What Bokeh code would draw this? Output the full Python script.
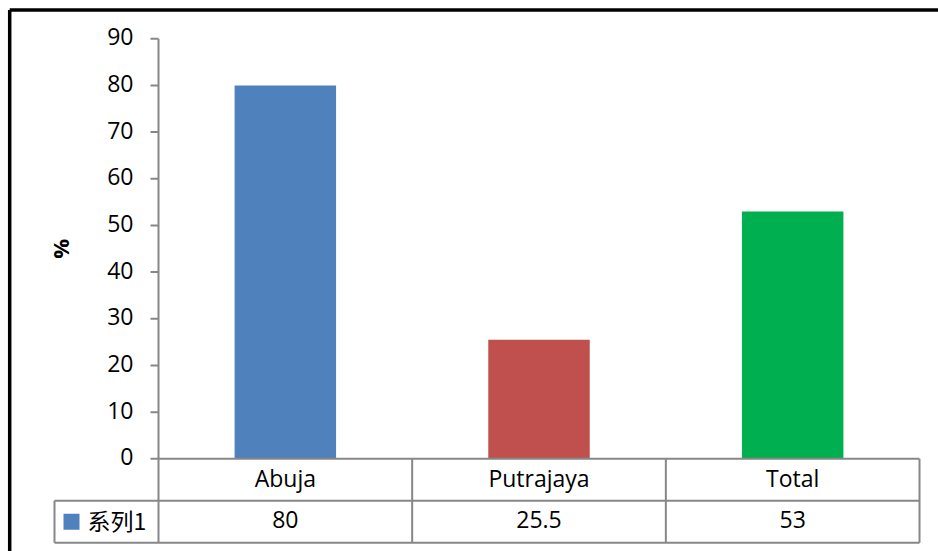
import math

from bokeh.plotting import figure
from bokeh.models import ColumnDataSource, Range1d
from bokeh.core.properties import value
from bokeh.embed import file_html
from bokeh.resources import INLINE

# ---- data -------------------------------------------------------------
categories = ["Abuja", "Putrajaya", "Total"]
series_name = "系列1"
series_values = [80, 25.5, 53]
bar_colors = ["#4F81BD", "#C0504D", "#00B050"]
y_ticks = [0, 10, 20, 30, 40, 50, 60, 70, 80, 90]
y_label = "%"

# ---- layout (canvas pixels) --------------------------------------------
W, H = 938, 551
ORIGIN_X, ORIGIN_Y = 158.0, 458.3   # where category edge 0 / value 0 sit
CAT_PX = 253.67                      # width of one category slot
UNIT_PX = 4.667                      # pixels per percentage point
ROW_PX = 42.0                        # height of one data-table row
LABEL_COL_PX = 104.0                 # width of the series-name column
TICK_PX = 8.0
GRID = "#878787"
FONT = value("Open Sans")
FONT_SIZE = "23px"
TEXT_LIFT = -2                       # nudge text up onto its optical centre


def dx(px):
    """horizontal pixel distance -> category units"""
    return px / CAT_PX


def dy(px):
    """vertical pixel distance -> value units"""
    return px / UNIT_PX


n = len(categories)
x_start, x_end = -dx(ORIGIN_X), dx(W - ORIGIN_X)
y_start, y_end = -dy(H - ORIGIN_Y), dy(ORIGIN_Y)

p = figure(
    width=W, height=H,
    x_range=Range1d(x_start, x_end), y_range=Range1d(y_start, y_end),
    x_axis_location=None, y_axis_location=None,
    toolbar_location=None, output_backend="svg",
    min_border=0, outline_line_color=None,
    background_fill_color="white", border_fill_color="white",
)
p.grid.grid_line_color = None

# ---- bars -------------------------------------------------------------
centers = [i + 0.5 for i in range(n)]
src = ColumnDataSource(dict(
    x=centers, top=series_values, color=bar_colors,
    cat=categories, label=[f"{v:g}" for v in series_values],
))
p.vbar(x="x", top="top", bottom=0, width=0.4, fill_color="color",
       line_color=None, source=src)

# ---- value axis -------------------------------------------------------
row = dy(ROW_PX)
y_max = max(y_ticks)
left_col = -dx(LABEL_COL_PX)

# axis line, continuing down as the table's left rule
p.segment(x0=[0], y0=[y_max], x1=[0], y1=[-2 * row], line_color=GRID, line_width=2)
p.segment(x0=[-dx(TICK_PX)] * len(y_ticks), y0=y_ticks,
          x1=[0] * len(y_ticks), y1=y_ticks, line_color=GRID, line_width=2)
p.text(x=[-dx(25)] * len(y_ticks), y=y_ticks, text=[str(t) for t in y_ticks],
       text_font=FONT, text_font_size=FONT_SIZE, text_align="right",
       text_baseline="middle", text_color="black", y_offset=TEXT_LIFT)
p.text(x=[-dx(99)], y=[y_max / 2], text=[y_label], angle=math.pi / 2,
       text_font=FONT, text_font_size="22px", text_font_style="bold",
       text_align="center", text_baseline="middle", text_color="black")

# ---- data table -------------------------------------------------------
# horizontal rules: category axis, between rows, bottom
p.segment(x0=[0, left_col, left_col], y0=[0, -row, -2 * row],
          x1=[n, n, n], y1=[0, -row, -2 * row], line_color=GRID, line_width=2)
# vertical rules between categories and on the right
edges = list(range(1, n + 1))
p.segment(x0=edges, y0=[0] * n, x1=edges, y1=[-2 * row] * n,
          line_color=GRID, line_width=2)
# left edge of the series-name cell
p.segment(x0=[left_col], y0=[-row], x1=[left_col], y1=[-2 * row],
          line_color=GRID, line_width=2)

p.text(x="x", y=-row / 2, text="cat", source=src, text_font=FONT,
       text_font_size=FONT_SIZE, text_align="center", text_baseline="middle",
       text_color="black", y_offset=TEXT_LIFT)
p.text(x="x", y=-1.5 * row, text="label", source=src, text_font=FONT,
       text_font_size=FONT_SIZE, text_align="center", text_baseline="middle",
       text_color="black", y_offset=TEXT_LIFT)

# series key: colour swatch and name
p.scatter(x=[left_col + dx(17)], y=[-1.5 * row], marker="square", size=16,
          fill_color=bar_colors[0], line_color=None)
p.text(x=[left_col + dx(33)], y=[-1.5 * row], text=[series_name],
       text_font=value("Noto Sans CJK SC"), text_font_size="23px",
       text_align="left", text_baseline="middle", text_color="black",
       y_offset=TEXT_LIFT)

# ---- chart frame (top and left edges) ---------------------------------
frame_l, frame_t = x_start + dx(9.2), y_end - dy(9.6)
p.segment(x0=[frame_l, frame_l], y0=[frame_t, frame_t],
          x1=[x_end + 1, frame_l], y1=[frame_t, y_start - 5],
          line_color="black", line_width=3.5)

open("out.html", "w").write(file_html(p, INLINE))
